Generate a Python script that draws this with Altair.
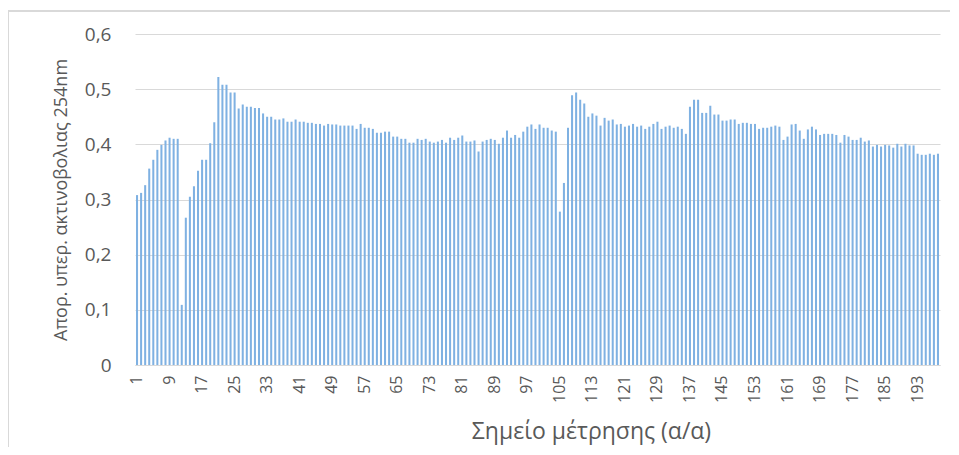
import altair as alt
import pandas as pd

values = [
    0.308, 0.312, 0.326, 0.356, 0.372, 0.390, 0.399, 0.407, 0.412, 0.410,
    0.410, 0.109, 0.267, 0.305, 0.324, 0.352, 0.372, 0.372, 0.402, 0.440,
    0.522, 0.508, 0.508, 0.494, 0.494, 0.465, 0.472, 0.468, 0.468, 0.466,
    0.466, 0.456, 0.450, 0.450, 0.445, 0.445, 0.447, 0.441, 0.441, 0.445,
    0.441, 0.441, 0.439, 0.439, 0.437, 0.437, 0.434, 0.437, 0.436, 0.436,
    0.434, 0.434, 0.434, 0.434, 0.428, 0.437, 0.430, 0.430, 0.428, 0.421,
    0.421, 0.423, 0.423, 0.414, 0.414, 0.410, 0.410, 0.403, 0.403, 0.410,
    0.408, 0.410, 0.405, 0.403, 0.405, 0.408, 0.403, 0.412, 0.408, 0.412,
    0.416, 0.405, 0.405, 0.407, 0.387, 0.405, 0.408, 0.410, 0.408, 0.401,
    0.412, 0.425, 0.412, 0.417, 0.412, 0.423, 0.432, 0.436, 0.428, 0.436,
    0.430, 0.430, 0.425, 0.423, 0.278, 0.330, 0.430, 0.489, 0.494, 0.481,
    0.474, 0.450, 0.456, 0.452, 0.434, 0.448, 0.443, 0.445, 0.436, 0.437,
    0.432, 0.434, 0.437, 0.432, 0.434, 0.428, 0.432, 0.437, 0.441, 0.428,
    0.432, 0.434, 0.430, 0.432, 0.428, 0.419, 0.468, 0.481, 0.481, 0.457,
    0.457, 0.470, 0.454, 0.454, 0.443, 0.443, 0.445, 0.445, 0.437, 0.439,
    0.439, 0.437, 0.437, 0.428, 0.430, 0.430, 0.432, 0.434, 0.432, 0.408,
    0.414, 0.436, 0.437, 0.425, 0.410, 0.427, 0.432, 0.427, 0.417, 0.419,
    0.419, 0.419, 0.417, 0.403, 0.417, 0.414, 0.408, 0.408, 0.412, 0.405,
    0.407, 0.396, 0.399, 0.396, 0.399, 0.398, 0.394, 0.401, 0.396, 0.401,
    0.398, 0.398, 0.383, 0.381, 0.381, 0.383, 0.381, 0.383,
]
points = list(range(1, len(values) + 1))
x_tick_labels = list(range(1, len(values) + 1, 8))
y_ticks = [0, 0.1, 0.2, 0.3, 0.4, 0.5, 0.6]

x_title = "Σημείο μέτρησης (α/α)"
y_title = "Απορ. υπερ. ακτινοβολιας 254nm"

df = pd.DataFrame({"point": points, "value": values})

FONT = "Open Sans"
GREY = "#595959"

bars = alt.Chart(df).mark_bar(color="#7FB1E2").encode(
    x=alt.X(
        "point:O",
        sort=points,
        scale=alt.Scale(paddingInner=0.5, paddingOuter=0.25),
        axis=alt.Axis(
            values=x_tick_labels,
            labelAngle=270,
            labelFontSize=16,
            labelColor=GREY,
            labelFont=FONT,
            labelPadding=10,
            labelOverlap=False,
            labelLimit=100,
            ticks=False,
            domain=True,
            domainColor="#D9D9D9",
            domainWidth=1,
            title=x_title,
            titleFont=FONT,
            titleFontSize=23,
            titleFontWeight="normal",
            titleColor=GREY,
            titleX=456,
            titleY=66,
            titleAlign="center",
            titleBaseline="middle",
        ),
    ),
    y=alt.Y(
        "value:Q",
        scale=alt.Scale(domain=[0, 0.6], nice=False),
        axis=alt.Axis(
            values=y_ticks,
            labelExpr="datum.value == 0 ? '0' : replace(format(datum.value, '.1f'), '.', ',')",
            labelFontSize=19,
            labelColor=GREY,
            labelFont=FONT,
            labelPadding=24,
            ticks=False,
            domain=False,
            grid=True,
            gridColor="#D9D9D9",
            gridWidth=1,
            title=y_title,
            titleFont=FONT,
            titleFontSize=18,
            titleFontWeight="normal",
            titleColor=GREY,
            titlePadding=14,
        ),
    ),
)

frame_top = alt.Chart(df).mark_rule(color="#D9D9D9", strokeWidth=1.5).encode(
    x=alt.value(-127), x2=alt.value(815), y=alt.value(-23)
)
frame_left = alt.Chart(df).mark_rule(color="#D9D9D9", strokeWidth=1.5).encode(
    x=alt.value(-127), y=alt.value(-23), y2=alt.value(413)
)

chart = alt.layer(bars, frame_top, frame_left).properties(
    width=805,
    height=331,
    autosize=alt.AutoSizeParams(type="none"),
    padding={"left": 127, "top": 26, "right": 11, "bottom": 82},
).configure_view(stroke=None)

chart.save("out.html", embed_options={"renderer": "svg", "actions": False})
